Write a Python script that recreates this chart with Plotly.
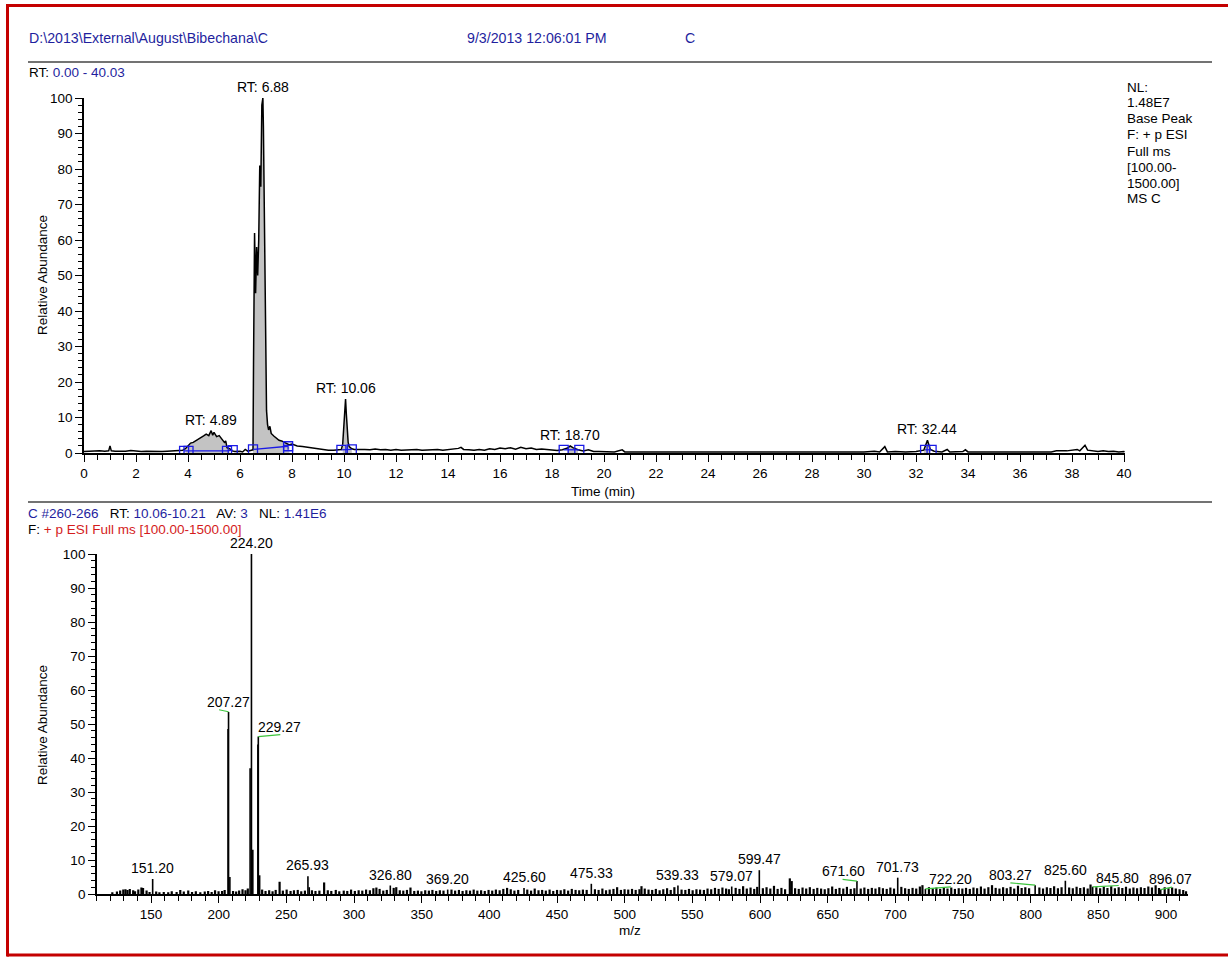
import plotly.graph_objects as go

W, H = 1228, 959
FONT = "Liberation Sans, Arial, Helvetica, sans-serif"
BLUE = "#1f1f9e"
RED = "#d41c1c"

# ---------------- chromatogram (time min, relative abundance) ----------------
chrom = [
    (0.00, 0.4), (0.20, 0.5), (0.40, 0.4), (0.60, 0.6), (0.80, 0.5), (0.95, 0.6), (1.00, 2.0), (1.05, 0.6),
    (1.20, 0.5), (1.40, 0.4), (1.60, 0.5), (1.80, 0.7), (2.00, 0.5), (2.20, 0.4), (2.40, 0.5), (2.60, 0.4),
    (2.80, 0.5), (3.00, 0.4), (3.20, 0.5), (3.40, 0.6), (3.60, 0.5), (3.80, 0.8),
    (3.90, 1.2), (4.00, 2.0), (4.10, 2.8), (4.20, 3.0), (4.30, 3.4), (4.40, 3.9), (4.50, 4.2), (4.60, 4.8),
    (4.70, 5.3), (4.80, 4.9), (4.89, 6.3), (4.95, 5.0), (5.00, 5.8), (5.10, 4.6), (5.20, 4.9), (5.30, 3.9),
    (5.40, 3.0), (5.45, 3.4), (5.50, 1.5), (5.60, 1.2), (5.70, 0.6),
    (5.80, 0.4), (6.00, 0.5), (6.10, 0.3), (6.20, 1.0), (6.30, 0.5), (6.40, 0.6), (6.50, 0.9),
    (6.52, 25), (6.56, 62), (6.60, 45), (6.64, 58), (6.68, 50), (6.72, 60), (6.76, 81), (6.80, 75),
    (6.84, 98), (6.88, 100), (6.90, 92), (6.93, 71), (6.96, 46), (6.99, 27), (7.02, 12), (7.06, 8),
    (7.10, 6.5), (7.15, 7.5), (7.20, 5.5), (7.30, 4.8), (7.40, 4.2), (7.50, 3.6), (7.60, 3.4), (7.70, 3.0),
    (7.80, 2.6), (7.90, 2.3), (8.00, 2.5), (8.20, 2.0), (8.40, 1.8), (8.60, 1.6), (8.80, 1.5), (9.00, 1.2),
    (9.20, 0.9), (9.40, 0.8), (9.60, 0.8), (9.80, 0.9), (9.90, 1.0),
    (9.95, 2.5), (10.00, 9.5), (10.03, 12.5), (10.06, 15.2), (10.09, 11.0), (10.12, 6.0), (10.16, 3.0),
    (10.20, 1.8), (10.30, 1.2), (10.40, 1.0),
    (10.60, 1.1), (10.80, 1.0), (11.00, 0.9), (11.20, 1.1), (11.40, 0.9), (11.60, 1.0), (11.80, 0.8),
    (12.00, 1.0), (12.20, 0.8), (12.40, 0.9), (12.60, 0.8), (12.80, 1.0), (13.00, 0.8), (13.20, 0.9),
    (13.40, 0.8), (13.60, 1.0), (13.80, 0.8), (14.00, 0.9), (14.20, 1.0), (14.40, 1.3), (14.50, 1.6),
    (14.60, 1.0), (14.80, 0.9), (15.00, 0.8), (15.20, 1.0), (15.40, 0.8), (15.60, 1.2), (15.80, 1.0),
    (16.00, 1.4), (16.20, 1.2), (16.40, 1.5), (16.60, 1.1), (16.80, 1.6), (17.00, 1.2), (17.20, 1.4),
    (17.40, 1.0), (17.60, 1.1), (17.80, 0.9), (18.00, 0.8), (18.20, 0.7), (18.40, 0.9), (18.60, 1.4),
    (18.70, 2.0), (18.80, 1.5), (19.00, 0.9), (19.20, 0.6), (19.40, 0.9), (19.60, 0.4), (19.80, 0.4),
    (20.00, 0.3), (20.40, 0.3), (20.70, 0.9), (20.80, 0.3), (21.20, 0.3), (21.60, 0.2), (22.00, 0.3),
    (22.50, 0.3), (23.00, 0.2), (23.50, 0.3), (24.00, 0.3), (24.50, 0.2), (25.00, 0.3), (25.50, 0.3),
    (26.00, 0.2), (26.50, 0.3), (27.00, 0.3), (27.50, 0.2), (28.00, 0.3), (28.50, 0.3), (29.00, 0.2),
    (29.50, 0.3), (30.00, 0.3), (30.40, 0.5), (30.60, 0.3), (30.80, 1.8), (30.90, 0.3), (31.20, 0.4),
    (31.60, 0.3), (32.00, 0.4), (32.30, 0.8), (32.44, 3.6), (32.55, 1.0), (32.70, 0.5), (33.00, 0.3),
    (33.20, 1.0), (33.30, 0.3), (33.80, 0.4), (33.90, 0.9), (34.00, 0.3), (34.50, 0.3), (35.00, 0.2),
    (35.50, 0.3), (36.00, 0.3), (36.50, 0.2), (37.00, 0.3), (37.20, 0.3), (37.40, 0.6), (37.80, 0.6),
    (38.00, 0.8), (38.20, 1.0), (38.30, 0.6), (38.50, 2.2), (38.60, 0.8), (38.80, 0.7), (39.00, 0.4),
    (39.20, 0.6), (39.40, 0.4), (39.60, 0.5), (39.80, 0.3), (40.00, 0.4), (40.03, 0.3),
]
fill_windows = [(3.9, 5.6), (6.5, 7.9), (9.95, 10.3), (18.5, 19.1), (32.3, 32.6)]
rt_labels = [(4.89, 6.3), (6.88, 100.0), (10.06, 15.2), (18.70, 2.0), (32.44, 3.6)]
# integration baselines: (start t, start y, end t, end y)
baselines = [
    (3.85, 0.6, 5.50, 0.6), (5.50, 0.6, 5.72, 0.8), (6.50, 1.0, 7.85, 1.9), (7.85, 1.9, 7.85, 0.9),
    (9.90, 0.9, 10.30, 1.0), (18.45, 0.9, 19.05, 0.9), (32.35, 0.9, 32.60, 0.9),
]
baseline_marks = [(3.85, 0.6), (4.02, 0.6), (5.50, 0.6), (5.72, 0.8), (6.50, 1.0), (7.85, 1.9),
                  (7.85, 0.9), (9.90, 0.9), (10.30, 1.0), (18.45, 0.9), (19.05, 0.9), (32.35, 0.9), (32.60, 0.9)]

# ---------------- mass spectrum (m/z, relative abundance) ----------------
spec_peaks = [
    (151.20, 4.4), (206.90, 48.5), (207.27, 53.5), (208.25, 5.0), (223.20, 37.0), (224.20, 100.0),
    (225.20, 13.0), (228.95, 44.0), (229.27, 46.3), (230.25, 5.5), (265.93, 5.2), (266.90, 2.0),
    (326.80, 2.5), (369.20, 1.3), (425.60, 1.8), (475.33, 3.0), (539.33, 2.5), (579.07, 2.2),
    (599.47, 7.0), (671.60, 3.8), (701.73, 4.8), (722.20, 1.5), (803.27, 2.6), (825.60, 3.9),
    (845.80, 2.1), (896.07, 1.3),
]
noise = [
    (121.4, 0.5), (124.8, 0.7), (127.2, 1.0), (129.5, 1.3), (131.1, 1.4), (132.6, 1.2), (134.3, 1.5),
    (136.8, 1.1), (138.2, 0.8), (140.6, 1.3), (142.9, 1.9), (144.1, 1.8), (146.7, 1.0), (148.9, 0.6),
    (153.8, 0.7), (156.2, 0.5), (159.4, 0.6), (162.7, 0.5), (165.3, 0.8), (168.9, 0.6), (171.6, 1.2),
    (174.2, 0.7), (177.5, 1.0), (180.3, 0.6), (183.1, 0.8), (186.4, 0.5), (189.7, 0.7), (192.2, 0.9),
    (194.8, 0.6), (197.3, 1.1), (199.9, 0.8), (202.5, 0.9), (204.4, 1.2), (210.6, 0.9), (212.9, 0.7),
    (215.1, 1.0), (217.6, 1.4), (219.8, 1.1), (221.5, 1.6), (232.1, 1.3), (234.6, 0.9), (237.3, 1.1),
    (239.8, 0.8), (242.1, 1.2), (245.0, 3.6), (247.4, 1.0), (250.2, 1.3), (253.1, 0.9), (255.6, 1.1),
    (258.4, 1.2), (261.0, 0.8), (263.7, 1.0), (268.9, 1.1), (271.5, 0.9), (274.4, 1.0), (277.9, 3.4),
    (280.6, 1.1), (283.2, 0.9), (286.5, 1.2), (289.1, 0.8), (292.4, 1.0), (295.0, 0.9), (297.8, 1.3),
    (300.6, 0.9), (303.4, 1.1), (306.1, 1.0), (308.9, 1.3), (311.7, 1.1), (314.3, 1.7), (316.5, 1.9),
    (318.9, 1.5), (321.6, 1.0), (324.2, 1.2), (329.3, 1.8), (331.2, 2.0), (333.8, 1.1), (336.4, 1.0),
    (339.1, 1.2), (341.7, 1.9), (344.5, 0.9), (347.2, 1.0), (349.8, 0.8), (352.6, 1.1), (355.3, 1.0),
    (357.9, 1.2), (360.7, 0.9), (363.4, 1.1), (366.1, 1.0), (372.0, 1.3), (374.7, 1.0), (377.5, 1.2),
    (380.2, 0.9), (383.0, 1.1), (385.7, 1.0), (388.4, 1.3), (391.1, 1.0), (393.9, 1.1), (396.6, 0.9),
    (399.4, 1.2), (402.1, 1.0), (404.8, 1.3), (407.6, 1.1), (410.3, 1.5), (413.1, 1.8), (415.8, 1.4),
    (418.5, 1.0), (421.3, 1.2), (428.0, 1.3), (430.8, 1.0), (433.5, 1.6), (436.3, 1.1), (439.0, 1.2),
    (441.7, 1.0), (444.5, 1.3), (447.2, 0.9), (450.0, 1.2), (452.7, 1.1), (455.4, 1.4), (458.2, 1.0),
    (460.9, 1.5), (463.7, 1.2), (466.4, 1.1), (469.1, 1.3), (471.9, 1.2), (478.0, 1.4), (480.7, 1.2),
    (483.5, 1.6), (486.2, 1.1), (488.9, 1.3), (491.7, 1.5), (494.4, 2.0), (497.2, 1.2), (499.9, 1.4),
    (502.6, 1.3), (505.4, 1.5), (508.1, 1.2), (510.9, 1.4), (512.4, 2.3), (514.8, 1.6), (517.6, 1.3),
    (520.3, 1.2), (523.0, 1.5), (525.8, 1.1), (528.5, 1.4), (531.3, 1.7), (534.0, 1.2), (536.7, 2.0),
    (542.0, 1.3), (544.8, 1.2), (547.5, 1.5), (550.2, 1.1), (553.0, 1.4), (555.7, 1.3), (558.5, 1.2),
    (561.2, 1.6), (563.9, 1.4), (566.7, 1.8), (569.4, 1.5), (572.2, 1.9), (574.9, 1.6), (577.0, 1.4),
    (582.0, 1.8), (584.8, 1.5), (587.5, 2.3), (590.2, 1.6), (593.0, 1.9), (595.7, 1.5), (597.9, 2.1),
    (602.1, 1.7), (604.8, 2.0), (607.6, 1.6), (610.3, 2.4), (613.0, 1.5), (615.8, 1.8), (618.5, 1.4),
    (622.0, 4.6), (623.4, 3.8), (625.9, 1.7), (628.6, 1.5), (631.4, 1.9), (634.1, 1.6), (636.8, 2.0),
    (639.6, 1.5), (642.3, 1.8), (645.1, 1.6), (647.8, 1.4), (650.5, 1.7), (653.3, 2.2), (656.0, 1.5),
    (658.7, 1.8), (661.5, 1.6), (664.2, 2.1), (667.0, 1.5), (669.7, 1.7), (674.4, 1.6), (677.1, 1.9),
    (679.9, 1.5), (682.6, 1.8), (685.3, 1.6), (688.1, 2.0), (690.8, 1.7), (693.6, 1.5), (696.3, 1.9),
    (699.0, 1.6), (704.4, 2.1), (707.2, 1.7), (709.9, 1.5), (712.7, 1.8), (715.4, 1.6), (718.1, 2.2),
    (720.0, 2.6), (724.8, 2.0), (727.6, 1.7), (730.3, 1.9), (733.1, 1.5), (735.8, 1.8), (738.5, 1.6),
    (741.3, 1.9), (744.0, 1.5), (746.8, 1.7), (749.5, 1.6), (752.2, 1.8), (755.0, 1.5), (757.7, 1.9),
    (760.4, 1.7), (763.2, 2.2), (765.9, 1.6), (768.7, 2.0), (771.4, 2.6), (774.1, 1.8), (776.9, 1.6),
    (779.6, 2.0), (782.3, 1.7), (785.1, 2.1), (787.8, 1.6), (790.6, 2.4), (793.3, 1.8), (796.0, 2.0),
    (798.8, 1.7), (806.4, 1.9), (809.1, 1.6), (811.9, 2.0), (814.6, 1.8), (817.3, 2.3), (820.1, 1.7),
    (822.8, 2.0), (828.4, 1.9), (831.1, 1.7), (833.9, 2.1), (836.6, 1.8), (839.3, 2.0), (842.1, 1.6),
    (844.2, 2.8), (848.5, 2.0), (851.3, 1.7), (854.0, 2.1), (856.7, 1.8), (859.5, 2.3), (862.2, 1.7),
    (865.0, 2.0), (867.7, 1.8), (870.4, 2.1), (873.2, 1.6), (875.9, 1.9), (878.6, 1.7), (881.4, 2.0),
    (884.1, 1.8), (886.9, 2.2), (889.6, 1.9), (892.3, 2.6), (894.8, 1.8), (899.0, 2.0), (901.8, 1.7),
    (904.5, 1.9), (907.2, 1.6), (910.0, 1.4), (912.7, 1.2), (914.8, 0.8),
]
# labelled peaks: (text, peak m/z, peak height)
spec_labels = [
    ("151.20", 151.20, 4.4), ("207.27", 207.27, 53.6), ("224.20", 224.20, 100.0), ("229.27", 229.27, 46.3),
    ("265.93", 265.93, 5.2), ("326.80", 326.80, 2.5), ("369.20", 369.20, 1.3), ("425.60", 425.60, 1.8),
    ("475.33", 475.33, 3.0), ("539.33", 539.33, 2.5), ("579.07", 579.07, 2.2), ("599.47", 599.47, 7.0),
    ("671.60", 671.60, 3.8), ("701.73", 701.73, 4.8), ("722.20", 722.20, 1.5), ("803.27", 803.27, 2.6),
    ("825.60", 825.60, 3.9), ("845.80", 845.80, 2.1), ("896.07", 896.07, 1.3),
]
# labels moved off their peak: text -> (label centre m/z, label base height, leader start m/z)
label_moves = {
    "207.27": (207.27, 54.2, 200.2), "229.27": (245.0, 46.9, 245.5), "671.60": (661.4, 4.3, 661.0),
    "722.20": (741.0, 2.1, 741.0), "803.27": (785.0, 3.3, 785.0), "845.80": (864.0, 2.5, 865.0),
    "896.07": (903.0, 2.0, 904.4),
}

# ---------------- build figure ----------------
def px(x):
    return x / W


def py(y):
    return 1 - y / H


fig = go.Figure()

ct = [p[0] for p in chrom]
ci = [p[1] for p in chrom]
for a, b in fill_windows:
    xs = [t for t, v in chrom if a <= t <= b]
    ys = [v for t, v in chrom if a <= t <= b]
    fig.add_trace(go.Scatter(x=xs, y=ys, mode="lines", fill="tozeroy", fillcolor="#c3c3c3",
                             line=dict(width=0), xaxis="x", yaxis="y", hoverinfo="skip"))
fig.add_trace(go.Scatter(x=ct, y=ci, mode="lines", line=dict(color="black", width=1.5),
                         xaxis="x", yaxis="y"))
for t0, y0, t1, y1 in baselines:
    fig.add_trace(go.Scatter(x=[t0, t1], y=[y0, y1], mode="lines", line=dict(color="#1a1ae6", width=1.3),
                             xaxis="x", yaxis="y", hoverinfo="skip"))
fig.add_trace(go.Scatter(x=[p[0] for p in baseline_marks], y=[p[1] for p in baseline_marks], mode="markers",
                         marker=dict(symbol="square-open", size=9, color="#1a1ae6", line=dict(width=1.3)),
                         xaxis="x", yaxis="y", hoverinfo="skip"))


def sticks(pairs):
    xs, ys = [], []
    for m, h in pairs:
        xs += [m, m, None]
        ys += [0, h, None]
    return xs, ys


nx, ny = sticks(noise)
fig.add_trace(go.Scatter(x=nx, y=ny, mode="lines", line=dict(color="black", width=2.2),
                         xaxis="x2", yaxis="y2", hoverinfo="skip"))
px_, py_ = sticks(spec_peaks)
fig.add_trace(go.Scatter(x=px_, y=py_, mode="lines", line=dict(color="black", width=1.6),
                         xaxis="x2", yaxis="y2", hoverinfo="skip"))

annotations = []
LBL = 14
for txt_, m, h in spec_labels:
    if txt_ in label_moves:
        lx, ly, ls = label_moves[txt_]
        fig.add_trace(go.Scatter(x=[ls, m], y=[ly, h], mode="lines", line=dict(color="#3cc43c", width=1.2),
                                 xaxis="x2", yaxis="y2", hoverinfo="skip"))
        annotations.append(dict(x=lx, y=ly, xref="x2", yref="y2", text=txt_, showarrow=False,
                                yanchor="bottom", yshift=-2, font=dict(size=LBL, color="black")))
    else:
        annotations.append(dict(x=m, y=h, xref="x2", yref="y2", text=txt_, showarrow=False,
                                yanchor="bottom", yshift=1, font=dict(size=LBL, color="black")))

for t, v in rt_labels:
    annotations.append(dict(x=t, y=v, xref="x", yref="y", text="RT: %.2f" % t, showarrow=False,
                            yanchor="bottom", yshift=1, font=dict(size=LBL, color="black")))


def txt(x, y, s, size=14.2, color="black", anchor="left", angle=0):
    annotations.append(dict(x=px(x), y=py(y), xref="paper", yref="paper", text=s, showarrow=False,
                            xanchor=anchor, yanchor="middle", textangle=angle,
                            font=dict(size=size, color=color)))


def col(s, c):
    return "<span style='color:%s'>%s</span>" % (c, s)


txt(27, 38, col("D:\\2013\\External\\August\\Bibechana\\C", BLUE))
txt(465, 38, col("9/3/2013 12:06:01 PM", BLUE))
txt(683, 38, col("C", BLUE))
txt(27, 72, "RT: " + col("0.00 - 40.03", BLUE), size=13.5)
txt(26, 513, col("C #260-266", BLUE) + "&nbsp;&nbsp; RT: " + col("10.06-10.21", BLUE) +
    "&nbsp;&nbsp; AV: " + col("3", BLUE) + "&nbsp;&nbsp; NL: " + col("1.41E6", BLUE), size=13.5)
txt(26, 529, "F: " + col("+ p ESI Full ms [100.00-1500.00]", RED), size=13.5)
for i, line in enumerate(["NL:", "1.48E7", "Base Peak", "F: + p ESI", "Full ms", "[100.00-", "1500.00]", "MS C"]):
    txt(1125, 87 + i * 16, line, size=13.5)
txt(42, 275, "Relative Abundance", size=13.5, anchor="center", angle=-90)
txt(42, 725, "Relative Abundance", size=13.5, anchor="center", angle=-90)
txt(603, 491, "Time (min)", size=13.5, anchor="center")
txt(630, 930, "m/z", size=13.5, anchor="center")

axis_common = dict(showline=True, linecolor="black", linewidth=1.6, showgrid=False, zeroline=False,
                   automargin=False, ticks="outside", tickcolor="black", tickwidth=1.3,
                   tickfont=dict(size=13.5, color="black"), tickmode="linear", tick0=0)

fig.update_layout(
    width=W, height=H, autosize=False, margin=dict(l=0, r=0, t=0, b=0, pad=0),
    paper_bgcolor="white", plot_bgcolor="white", showlegend=False,
    font=dict(family=FONT, color="black"),
    xaxis=dict(domain=[px(84), px(84 + 40.03 * 26)], range=[0, 40.03], anchor="y", dtick=2, ticklen=7,
               minor=dict(dtick=0.5, ticklen=5, tickwidth=1.1, tickcolor="black", ticks="outside"),
               **axis_common),
    yaxis=dict(domain=[py(453), py(98)], range=[0, 100], anchor="x", dtick=10, ticklen=7,
               minor=dict(dtick=2, ticklen=4, tickwidth=1.1, tickcolor="black", ticks="outside"),
               **axis_common),
    xaxis2=dict(domain=[px(96.9), px(1187.7)], range=[110, 916], anchor="y2", dtick=50, ticklen=7,
                minor=dict(dtick=10, ticklen=5, tickwidth=1.1, tickcolor="black", ticks="outside"),
                **axis_common),
    yaxis2=dict(domain=[py(894), py(554)], range=[0, 100], anchor="x2", dtick=10, ticklen=7,
                minor=dict(dtick=2, ticklen=4, tickwidth=1.1, tickcolor="black", ticks="outside"),
                **axis_common),
    annotations=annotations,
    shapes=[
        dict(type="line", xref="paper", yref="paper", x0=px(28), x1=px(1212), y0=py(62), y1=py(62),
             line=dict(color="#444444", width=1.5)),
        dict(type="line", xref="paper", yref="paper", x0=px(28), x1=px(1212), y0=py(502), y1=py(502),
             line=dict(color="#444444", width=1.5)),
        dict(type="line", xref="paper", yref="paper", x0=px(7), x1=px(1228), y0=py(5.5), y1=py(5.5),
             line=dict(color="#c40000", width=3)),
        dict(type="line", xref="paper", yref="paper", x0=px(7), x1=px(1228), y0=py(955), y1=py(955),
             line=dict(color="#c40000", width=3)),
        dict(type="line", xref="paper", yref="paper", x0=px(7.5), x1=px(7.5), y0=py(4), y1=py(956.5),
             line=dict(color="#c40000", width=3)),
    ],
)

fig.write_html("out.html")
